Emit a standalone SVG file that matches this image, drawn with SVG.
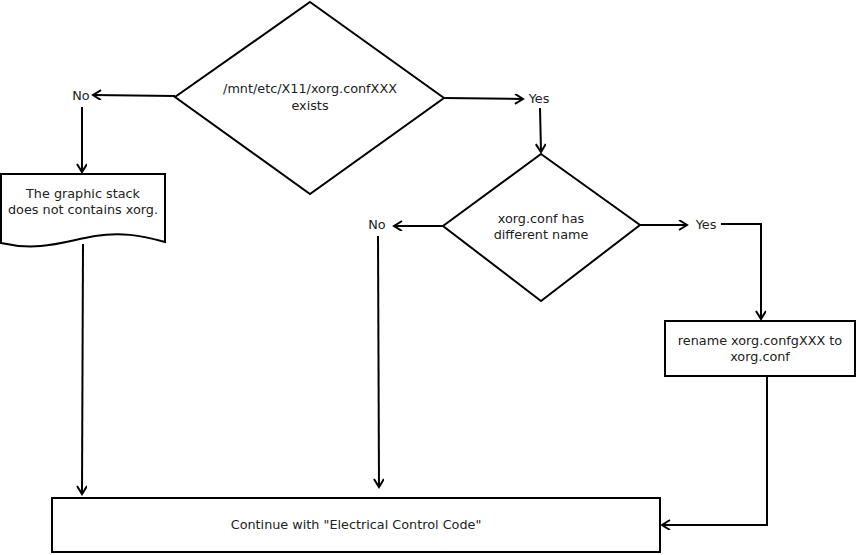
<svg xmlns="http://www.w3.org/2000/svg" width="857" height="555" viewBox="0 0 857 555">
<defs>
<marker id="arr" markerWidth="12" markerHeight="12" refX="9" refY="5" orient="auto" markerUnits="userSpaceOnUse">
<path d="M1,0 L9,5 L1,10" fill="none" stroke="#000" stroke-width="2"/>
</marker>
<style>
.shape{fill:#fff;stroke:#000;stroke-width:2}
.line{fill:none;stroke:#000;stroke-width:2}
text{font-family:"DejaVu Sans",sans-serif;font-size:12.8px;fill:#222;text-anchor:middle}
</style>
</defs>
<rect width="857" height="555" fill="#fff"/>
<g id="connectors">
<polyline class="line" points="175,96 93,95" marker-end="url(#arr)"/>
<polyline class="line" points="82,107 82,172" marker-end="url(#arr)"/>
<polyline class="line" points="444,98 523,99" marker-end="url(#arr)"/>
<polyline class="line" points="540,108 541,152" marker-end="url(#arr)"/>
<polyline class="line" points="443,226 394,226" marker-end="url(#arr)"/>
<polyline class="line" points="378,236 379,487" marker-end="url(#arr)"/>
<polyline class="line" points="640,225 687,225" marker-end="url(#arr)"/>
<polyline class="line" points="721,224 761,224 761,319" marker-end="url(#arr)"/>
<polyline class="line" points="83,244 82,494" marker-end="url(#arr)"/>
<polyline class="line" points="767,376 767,525 662,525" marker-end="url(#arr)"/>
</g>
<g id="label-no1"><text x="81" y="100">No</text></g>
<g id="label-yes1"><text x="539" y="103">Yes</text></g>
<g id="label-no2"><text x="377" y="229">No</text></g>
<g id="label-yes2"><text x="706" y="229">Yes</text></g>
<g id="decision1">
<polygon class="shape" points="310,2 444,98 310,194 175,97"/>
<text x="310" y="93">/mnt/etc/X11/xorg.confXXX</text>
<text x="310" y="110">exists</text>
</g>
<g id="document">
<path class="shape" d="M1,174 L165,174 L165,242 C140,235 120,232 95,236 C65,241 40,252 1,243 Z"/>
<text x="83" y="198">The graphic stack</text>
<text x="83" y="214">does not contains xorg.</text>
</g>
<g id="decision2">
<polygon class="shape" points="541,154 640,225 541,301 443,226"/>
<text x="541" y="223">xorg.conf has</text>
<text x="541" y="239">different name</text>
</g>
<g id="rename">
<rect class="shape" x="665" y="321" width="190" height="55"/>
<text x="760" y="345">rename xorg.confgXXX to</text>
<text x="760" y="361">xorg.conf</text>
</g>
<g id="continue">
<rect class="shape" x="52" y="498" width="608" height="54"/>
<text x="356" y="529">Continue with "Electrical Control Code"</text>
</g>
</svg>
